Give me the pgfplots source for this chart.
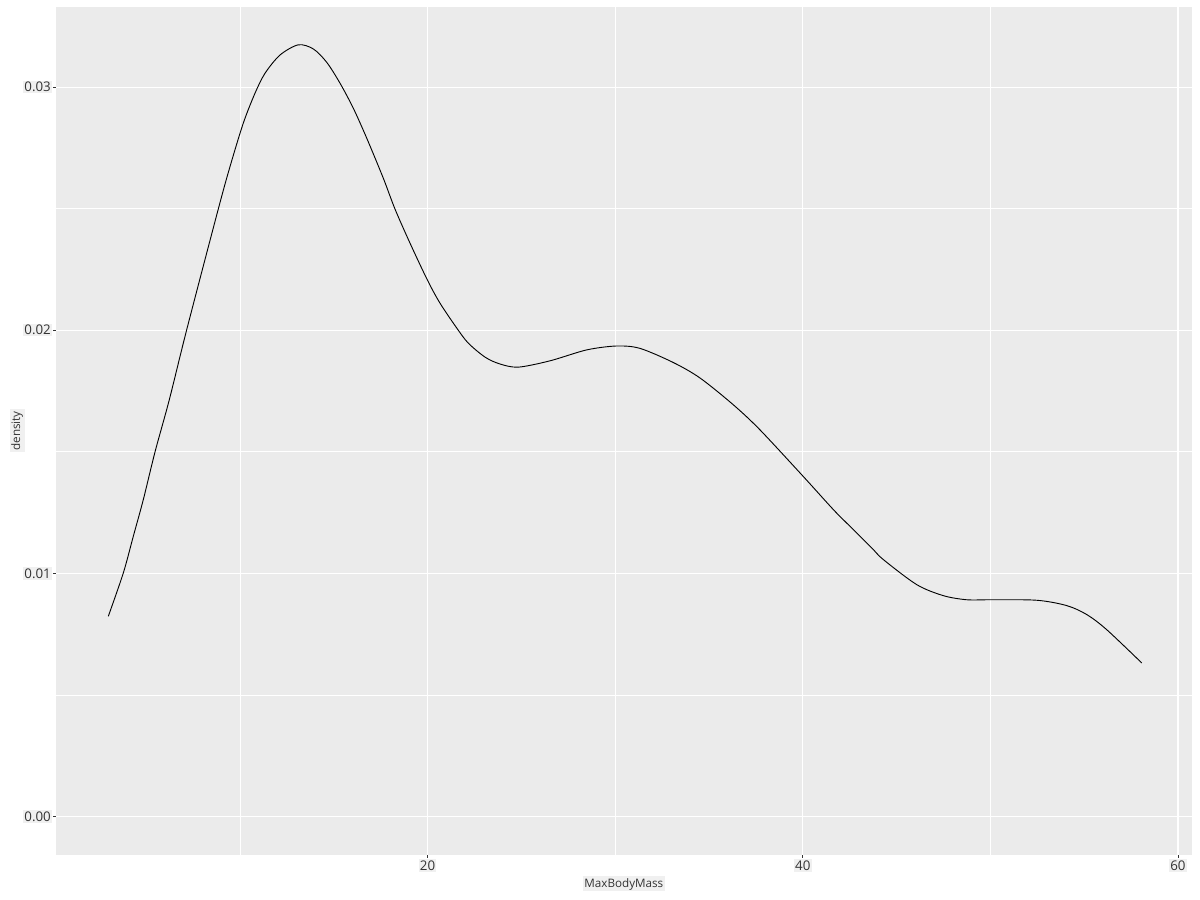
\documentclass[border=0pt]{standalone}
\usepackage{fontspec}
\setmainfont{Open Sans}
\usepackage{pgfplots}
\usetikzlibrary{calc}
\pgfplotsset{compat=1.18}
\definecolor{panel}{HTML}{EBEBEB}
\definecolor{lblbg}{HTML}{F0F0F0}
\definecolor{tickcol}{HTML}{333333}
\begin{document}
\begin{tikzpicture}
\begin{axis}[name=ax, scale only axis, width=681.4pt, height=509pt,
  xmin=0.197, xmax=60.73, ymin=-0.00159, ymax=0.03331,
  scaled ticks=false,
  axis background/.style={fill=panel}, axis line style={draw=none},
  xtick={20,40,60}, minor xtick={10,30,50},
  ytick={0,0.01,0.02,0.03}, minor ytick={0.005,0.015,0.025},
  xticklabels={20,40,60}, yticklabels={0.00,0.01,0.02,0.03},
  xtick pos=bottom, ytick pos=left,
  grid=both, major grid style={white, line width=0.7pt},
  minor grid style={white, line width=0.35pt},
  tick align=outside, major tick length=1.8pt, minor tick length=0pt,
  tick style={tickcol, line width=0.4pt},
  ticklabel style={font=\fontsize{8}{9}\selectfont, text=tickcol, fill=lblbg, inner sep=0.8pt},
  xticklabel style={yshift=-0.5pt},
  yticklabel style={xshift=-0.3pt},
  xlabel={MaxBodyMass}, ylabel={density},
  xlabel style={at={(axis description cs:0.5,0)}, anchor=center, yshift=-17.4pt,
    font=\fontsize{7}{8}\selectfont, text=tickcol, fill=lblbg, inner sep=1pt},
  ylabel style={at={(axis description cs:-0.0343,0.5)}, anchor=center, rotate=0,
    font=\fontsize{7}{8}\selectfont, text=tickcol, fill=lblbg, inner sep=1pt},
]
\addplot[black, line width=0.55pt, smooth] table {
x y
2.985 0.00823
3.784 0.01001
4.317 0.01152
4.851 0.01303
5.474 0.01499
6.237 0.01714
7.164 0.02002
8.849 0.02499
9.472 0.02673
10.181 0.02852
10.805 0.02975
11.338 0.03057
12.137 0.03132
13.113 0.03174
13.913 0.03157
14.627 0.03102
15.336 0.03016
16.045 0.02913
16.759 0.02790
17.644 0.02625
18.268 0.02498
19.067 0.02358
19.989 0.02207
20.666 0.02111
21.556 0.02009
22.17 0.01947
23.07 0.01889
23.86 0.01861
24.84 0.01848
26.53 0.01874
28.49 0.01919
30.09 0.01935
31.33 0.01925
33.10 0.01867
34.53 0.01803
36.30 0.01693
37.72 0.01590
40.03 0.01398
41.63 0.01262
42.52 0.01193
43.68 0.01104
44.30 0.01056
46.08 0.00953
47.49 0.00908
48.74 0.00891
50.00 0.00891
52.47 0.00889
54.07 0.00867
55.14 0.00830
56.20 0.00768
58.07 0.00631
};
\end{axis}
\pgfresetboundingbox
\path ($(ax.south west)+(-33.6pt,-27pt)$) rectangle ($(ax.north east)+(5pt,4pt)$);
\end{tikzpicture}
\end{document}
